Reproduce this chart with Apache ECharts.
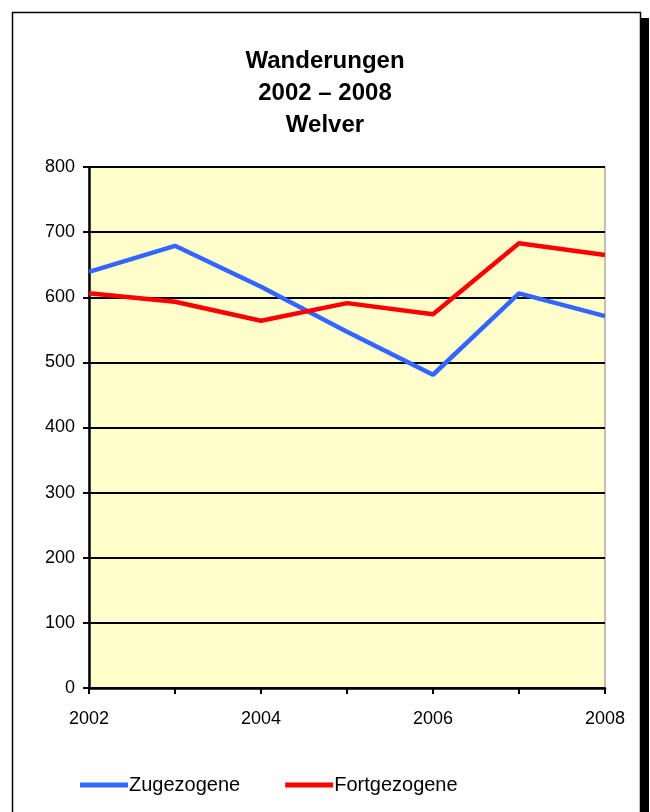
<!DOCTYPE html>
<html>
<head>
<meta charset="utf-8">
<script src="https://cdn.jsdelivr.net/npm/echarts@6/dist/echarts.min.js"></script>
<style>
  html, body { margin: 0; padding: 0; background: #fff; }
  #chart { width: 650px; height: 812px; }
</style>
</head>
<body>
<div id="chart"></div>
<script>
;(function () {
  const years = ['2002', '2003', '2004', '2005', '2006', '2007', '2008']
  const zugezogene = [639, 679, 616, 547, 481, 606, 571]
  const fortgezogene = [606, 593, 564, 591, 574, 683, 665]

  const font = '"Liberation Sans", Arial, sans-serif'

  const chart = echarts.init(document.getElementById('chart'))
  chart.setOption({
    animation: false,
    textStyle: { fontFamily: font },
    graphic: [
      // outer frame with a dark shadow on the right
      { type: 'rect', shape: { x: 641, y: 18, width: 8, height: 800 }, style: { fill: '#000' }, z: -1 },
      { type: 'rect', shape: { x: 12.5, y: 12.5, width: 628, height: 820 }, style: { fill: '#fff', stroke: '#000', lineWidth: 1.5 }, z: -1 },
    ],
    title: {
      text: 'Wanderungen\n2002 – 2008\nWelver',
      left: 'center',
      top: 40,
      textStyle: { fontFamily: font, fontSize: 24, fontWeight: 'bold', color: '#000', lineHeight: 32 },
    },
    legend: {
      bottom: 12,
      left: 75,
      itemWidth: 48,
      itemHeight: 5,
      itemGap: 45,
      icon: 'rect',
      textStyle: { fontFamily: font, fontSize: 20, color: '#000', padding: [0, 0, 0, -4] },
      data: ['Zugezogene', 'Fortgezogene'],
    },
    grid: {
      left: 89,
      right: 45,
      top: 167,
      bottom: 124,
      show: true,
      backgroundColor: '#FFFFCC',
      borderColor: '#808080',
      borderWidth: 1,
    },
    xAxis: {
      type: 'category',
      boundaryGap: false,
      data: years,
      axisLine: { lineStyle: { color: '#000', width: 2.5 } },
      axisTick: { show: true, length: 6, interval: 0, lineStyle: { color: '#000', width: 2 } },
      axisLabel: { interval: 1, color: '#000', fontSize: 18, margin: 22, fontFamily: font },
      splitLine: { show: false },
    },
    yAxis: {
      type: 'value',
      min: 0,
      max: 800,
      interval: 100,
      axisLine: { show: true, lineStyle: { color: '#000', width: 2.5 } },
      axisTick: { show: true, length: 6, lineStyle: { color: '#000', width: 2 } },
      axisLabel: { color: '#000', fontSize: 18, margin: 14, fontFamily: font },
      splitLine: { show: true, lineStyle: { color: '#000', width: 2 } },
    },
    series: [
      {
        name: 'Zugezogene',
        type: 'line',
        data: zugezogene,
        symbol: 'none',
        color: '#3366FF',
        lineStyle: { width: 4.5, color: '#3366FF' },
      },
      {
        name: 'Fortgezogene',
        type: 'line',
        data: fortgezogene,
        symbol: 'none',
        color: '#FF0000',
        lineStyle: { width: 4.5, color: '#FF0000' },
      },
    ],
  })
})()
</script>
</body>
</html>
